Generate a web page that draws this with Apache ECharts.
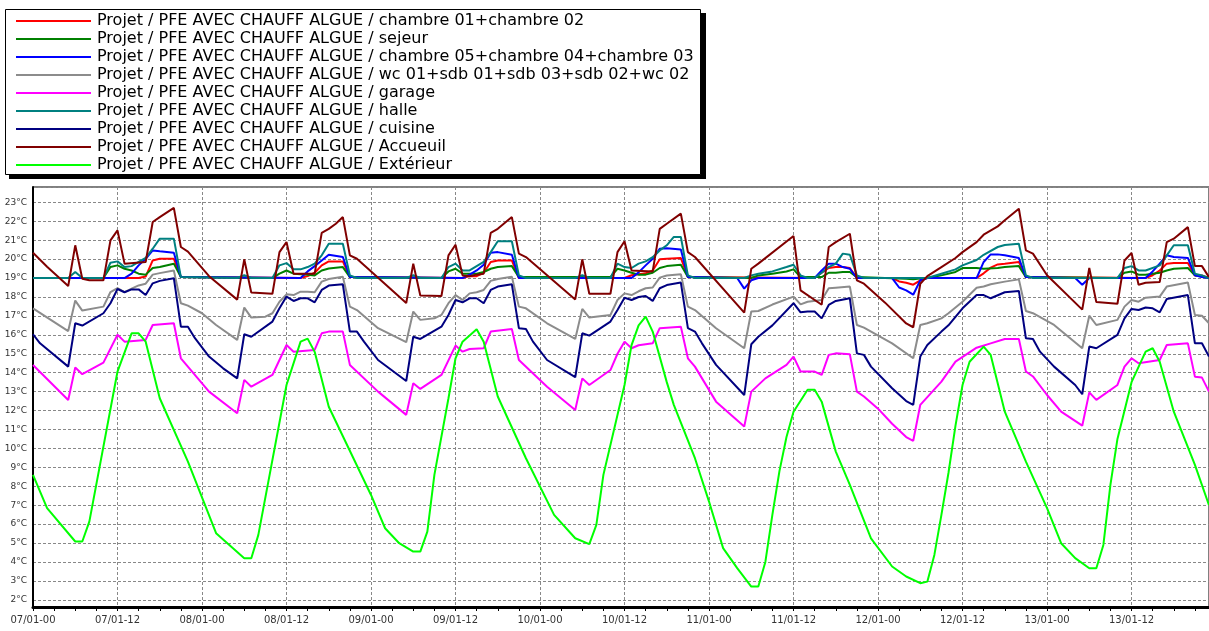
<!DOCTYPE html>
<html><head><meta charset="utf-8">
<script src="https://cdn.jsdelivr.net/npm/echarts@6/dist/echarts.min.js"></script>
<style>html,body{margin:0;padding:0;background:#fff}#c{width:1209px;height:631px}</style>
</head><body><div id="c"></div>
<script>
// ---- data (hour since 07/01-00, °C) ----
const prefix = 'Projet / PFE AVEC CHAUFF ALGUE / ';
const roomNames = ['chambre 01+chambre 02','sejeur','chambre 05+chambre 04+chambre 03','wc 01+sdb 01+sdb 03+sdb 02+wc 02','garage','halle','cuisine','Accueuil','Extérieur'];
const seriesColors = ['#ff0000','#008000','#0000ff','#8c8c8c','#ff00ff','#008080','#000080','#800000','#00ff00'];

const chambre0102 = [[0,19],[15,19],[16,19.08],[17,19.93],[18,20.02],[20,20.02],[21,19.05],[38,19],[39,19.1],[40,19.28],[41,19.67],[42,19.88],[44,19.88],[45,19.05],[61,19],[62,19.1],[63,19.1],[64,19.28],[65,19.85],[66,19.93],[68,19.93],[69,19],[84,19],[85,19.15],[86,19.2],[87,19.25],[88,19.4],[89,19.99],[90,20.02],[92,20.06],[93,19.05],[111,19],[112,19.28],[113,19.53],[114,19.58],[115,19.58],[116,19.53],[117,19],[122,19],[123,18.82],[124,18.75],[125,18.65],[126,18.88],[127,19],[134,19],[135,19.25],[136,19.55],[137,19.72],[138,19.76],[140,19.85],[141,19.05],[158,19],[159,19.15],[160,19.4],[161,19.76],[162,19.79],[164,19.79],[165,19.14],[166,19.14],[167,19]];
const sejeur = [[0,19],[10,19],[11,19.58],[12,19.67],[13,19.49],[14,19.4],[15,19.23],[16,19.18],[17,19.53],[18,19.58],[20,19.76],[21,19.05],[34,19],[35,19.23],[36,19.4],[37,19.23],[39,19.18],[40,19.14],[41,19.4],[42,19.5],[44,19.58],[45,19.05],[58,19],[59,19.35],[60,19.49],[61,19.23],[63,19.23],[64,19.32],[65,19.49],[66,19.58],[68,19.63],[69,19.05],[82,19.05],[83,19.49],[84,19.4],[85,19.28],[86,19.18],[87,19.18],[88,19.28],[89,19.53],[90,19.63],[92,19.7],[93,19.05],[102,19],[103,19.14],[105,19.23],[107,19.35],[108,19.46],[109,19.05],[112,19.05],[113,19.28],[114,19.28],[115,19.32],[116,19.32],[117,19.05],[124,18.96],[125,18.93],[126,18.97],[127,19],[129,19.14],[131,19.32],[132,19.53],[134,19.53],[135,19.49],[137,19.53],[138,19.58],[140,19.63],[141,19.05],[154,19],[155,19.28],[156,19.35],[157,19.18],[158,19.18],[160,19.28],[161,19.4],[162,19.49],[164,19.53],[165,19.14],[167,19]];
const chambre050403 = [[0,19],[13,19],[14,19.23],[15,19.67],[16,20.02],[17,20.46],[18,20.41],[20,20.34],[21,19.05],[38,19],[39,19.35],[40,19.63],[41,19.93],[42,20.23],[44,20.11],[45,19.05],[61,19],[62,19.18],[63,19.4],[64,19.7],[65,20.34],[66,20.37],[68,20.23],[69,19],[85,19],[86,19.3],[87,19.67],[88,20.02],[89,20.55],[90,20.58],[92,20.51],[93,19.05],[100,19],[101,18.44],[102,18.88],[103,19],[111,19],[112,19.4],[113,19.76],[114,19.76],[115,19.58],[116,19.49],[117,19],[122,19],[123,18.5],[124,18.35],[125,18.12],[126,18.88],[127,19],[134,19],[135,19.85],[136,20.25],[137,20.25],[138,20.2],[140,20.06],[141,19.05],[148,19],[149,18.65],[150,19],[158,19],[159,19.35],[160,19.76],[161,20.2],[162,20.11],[164,20.06],[165,19.14],[166,19.05],[167,19]];
const wcSdb = [[0,17.4],[5,16.2],[6,17.81],[7,17.28],[10,17.49],[11,18.26],[12,18.47],[13,18.26],[14,18.44],[15,18.61],[16,18.7],[17,19.18],[18,19.26],[20,19.4],[21,17.67],[22,17.54],[24,17.14],[26,16.52],[29,15.73],[30,17.44],[31,16.91],[33,16.96],[34,17.14],[35,17.75],[36,18.14],[37,18.1],[38,18.28],[39,18.28],[40,18.25],[41,18.81],[42,18.95],[44,19.07],[45,17.49],[46,17.31],[49,16.35],[53,15.61],[54,17.23],[55,16.79],[57,16.87],[58,17.05],[59,17.67],[60,18.1],[61,17.84],[62,18.19],[63,18.25],[64,18.37],[65,18.85],[66,18.95],[68,19.07],[69,17.49],[70,17.4],[73,16.61],[77,15.78],[78,17.37],[79,16.91],[82,17.05],[83,17.84],[84,18.19],[85,18.1],[86,18.3],[87,18.46],[88,18.5],[89,19.02],[90,19.13],[92,19.2],[93,17.49],[94,17.31],[97,16.35],[101,15.29],[102,17.23],[103,17.26],[105,17.6],[108,18.02],[109,17.61],[110,17.75],[112,17.84],[113,18.46],[114,18.49],[116,18.55],[117,16.52],[118,16.38],[122,15.55],[125,14.76],[126,16.52],[127,16.61],[129,16.87],[130,17.14],[132,17.75],[134,18.49],[135,18.55],[136,18.67],[138,18.81],[140,18.93],[141,17.26],[142,17.14],[145,16.52],[149,15.29],[150,17.01],[151,16.52],[154,16.79],[155,17.49],[156,17.84],[157,17.75],[158,17.96],[160,18.02],[161,18.55],[164,18.76],[165,17.05],[166,17.01],[167,16.61]];
const garage = [[0,14.41],[5,12.56],[6,14.27],[7,13.92],[10,14.53],[12,16.0],[13,15.64],[16,15.73],[17,16.52],[20,16.61],[21,14.76],[25,13.0],[29,11.86],[30,13.62],[31,13.26],[34,13.88],[36,15.46],[37,15.11],[40,15.2],[41,16.08],[42,16.17],[44,16.17],[45,14.41],[49,13.0],[53,11.77],[54,13.44],[55,13.14],[58,13.88],[60,15.43],[61,15.11],[62,15.25],[64,15.29],[65,16.17],[68,16.31],[69,14.67],[73,13.26],[77,12.03],[78,13.7],[79,13.35],[82,14.14],[83,15.0],[84,15.64],[85,15.29],[86,15.45],[88,15.55],[89,16.35],[92,16.43],[93,14.76],[94,14.32],[97,12.47],[101,11.15],[102,13.0],[104,13.7],[107,14.41],[108,14.85],[109,14.06],[111,14.06],[112,13.88],[113,14.94],[114,15.02],[116,14.97],[117,13.0],[118,12.74],[120,12.1],[122,11.3],[124,10.6],[125,10.4],[126,12.3],[129,13.53],[131,14.58],[134,15.32],[136,15.55],[138,15.78],[140,15.78],[141,14.06],[142,13.8],[144,12.82],[146,11.94],[149,11.2],[150,12.96],[151,12.56],[154,13.35],[155,14.32],[156,14.76],[157,14.5],[160,14.67],[161,15.46],[164,15.55],[165,13.79],[166,13.74],[167,13.0]];
const halle = [[0,19],[5,19],[6,19.32],[7,19],[10,19],[11,19.81],[12,19.88],[13,19.58],[14,19.63],[15,19.85],[16,20.06],[17,20.55],[18,21.08],[20,21.08],[21,19.05],[29,19],[30,19.15],[31,19],[34,19],[35,19.67],[36,19.79],[37,19.46],[38,19.46],[39,19.58],[40,19.76],[41,20.2],[42,20.81],[44,20.81],[45,19.14],[46,19],[53,19],[54,19.15],[55,19],[58,19],[59,19.58],[60,19.76],[61,19.4],[62,19.4],[63,19.63],[64,19.85],[65,20.37],[66,20.94],[68,20.94],[69,19.14],[70,19],[77,19],[78,19.15],[79,19],[82,19],[83,19.76],[84,19.58],[85,19.53],[86,19.76],[87,19.88],[88,20.1],[89,20.46],[90,20.73],[91,21.17],[92,21.17],[93,19.14],[94,19],[101,19],[102,19.14],[103,19.23],[105,19.35],[107,19.58],[108,19.7],[109,19.14],[110,19],[111,19],[112,19.28],[113,19.58],[114,19.76],[115,20.29],[116,20.23],[117,19.14],[118,19],[127,19],[129,19.23],[131,19.46],[132,19.67],[134,19.95],[135,20.23],[137,20.64],[138,20.75],[140,20.81],[141,19.14],[142,19],[154,19],[155,19.53],[156,19.63],[157,19.4],[158,19.4],[160,19.67],[161,20.2],[162,20.73],[164,20.73],[165,19.23],[166,19.14],[167,19]];
const cuisine = [[0,16.03],[1,15.55],[5,14.32],[6,16.61],[7,16.49],[10,17.14],[11,17.67],[12,18.42],[13,18.25],[14,18.4],[15,18.4],[16,18.1],[17,18.72],[18,18.85],[20,18.99],[21,16.43],[22,16.43],[23,15.82],[25,14.85],[27,14.23],[29,13.7],[30,16.03],[31,15.9],[34,16.7],[35,17.4],[36,18.02],[37,17.79],[38,17.93],[39,17.93],[40,17.72],[41,18.37],[42,18.6],[44,18.67],[45,16.17],[46,16.17],[47,15.64],[49,14.67],[53,13.56],[54,15.9],[55,15.78],[58,16.43],[59,17.05],[60,17.84],[61,17.72],[62,17.93],[63,17.93],[64,17.67],[65,18.37],[66,18.55],[68,18.67],[69,16.35],[70,16.31],[71,15.64],[73,14.67],[77,13.76],[78,16.08],[79,15.96],[82,16.7],[83,17.31],[84,17.96],[85,17.84],[86,18.0],[87,18.05],[88,17.79],[89,18.46],[90,18.63],[92,18.76],[93,16.35],[94,16.17],[95,15.55],[97,14.41],[101,12.82],[102,15.5],[103,15.9],[105,16.5],[108,17.67],[109,17.19],[110,17.23],[111,17.23],[112,16.87],[113,17.58],[114,17.79],[116,17.93],[117,15.02],[118,14.94],[119,14.32],[122,13.18],[124,12.5],[125,12.3],[126,14.85],[127,15.46],[129,16.17],[130,16.5],[132,17.4],[134,18.1],[135,18.1],[136,17.93],[138,18.25],[140,18.32],[141,15.82],[142,15.78],[143,15.11],[145,14.32],[148,13.35],[149,12.86],[150,15.38],[151,15.29],[154,16.0],[155,16.87],[156,17.37],[157,17.31],[158,17.44],[159,17.4],[160,17.19],[161,17.89],[164,18.1],[165,15.55],[166,15.55],[167,14.85]];
const accueuil = [[0,20.34],[2,19.6],[5,18.58],[6,20.73],[7,18.96],[8,18.88],[10,18.88],[11,20.99],[12,21.52],[13,19.76],[16,19.85],[17,21.96],[18,22.22],[20,22.71],[21,20.64],[22,20.4],[25,19.1],[29,17.86],[30,19.99],[31,18.23],[34,18.17],[35,20.37],[36,20.9],[37,19.23],[40,19.23],[41,21.39],[42,21.6],[43,21.87],[44,22.22],[45,20.2],[46,20.02],[53,17.68],[54,19.76],[55,18.08],[58,18.05],[59,20.2],[60,20.76],[61,19.14],[62,19.1],[63,19.18],[64,19.23],[65,21.39],[66,21.6],[68,22.22],[69,20.29],[70,20.11],[77,17.87],[78,19.99],[79,18.17],[82,18.17],[83,20.37],[84,20.94],[85,19.4],[88,19.35],[89,21.6],[90,21.87],[92,22.4],[93,20.37],[94,20.11],[101,17.17],[102,19.49],[103,19.76],[108,21.22],[109,18.35],[112,17.59],[113,20.64],[114,20.9],[116,21.34],[117,18.88],[118,18.7],[121,17.7],[124,16.6],[125,16.4],[126,18.7],[127,19.1],[129,19.58],[131,20.06],[132,20.37],[134,20.9],[135,21.29],[137,21.73],[138,22.05],[140,22.66],[141,20.46],[142,20.29],[144,19.15],[149,17.33],[150,19.53],[151,17.73],[154,17.64],[155,19.93],[156,20.32],[157,18.65],[158,18.75],[160,18.79],[161,20.9],[162,21.08],[164,21.69],[165,19.63],[166,19.63],[167,19.05]];
const exterieur = [[0,8.6],[2,6.84],[6,5.08],[7,5.08],[8,6.13],[12,14.06],[14,16.08],[15,16.08],[16,15.64],[18,12.65],[22,9.3],[26,5.52],[30,4.2],[31,4.2],[32,5.43],[36,13.35],[38,15.64],[39,15.8],[40,15.1],[42,12.2],[48,7.54],[50,5.78],[52,4.99],[54,4.55],[55,4.55],[56,5.6],[57,8.6],[59,12.65],[60,14.76],[61,15.64],[63,16.3],[64,15.64],[66,12.74],[70,9.48],[74,6.49],[77,5.25],[79,4.94],[80,5.96],[81,8.6],[84,13.35],[85,15.46],[86,16.5],[87,16.96],[88,16.17],[90,13.5],[91,12.3],[94,9.48],[96,7.19],[98,4.73],[100,3.67],[102,2.7],[103,2.7],[104,4.0],[105,6.5],[106,8.8],[107,10.6],[108,11.94],[110,13.1],[111,13.1],[112,12.47],[114,9.83],[116,8.07],[119,5.25],[122,3.76],[124,3.23],[126,2.88],[127,2.96],[128,4.37],[129,6.49],[130,8.7],[131,11.2],[132,13.35],[133,14.58],[135,15.38],[136,14.94],[138,11.94],[141,9.3],[144,6.84],[146,4.99],[148,4.2],[150,3.67],[151,3.67],[152,4.9],[153,8.07],[154,10.5],[156,13.5],[158,15.11],[159,15.29],[160,14.58],[162,11.94],[165,9.13],[167,7.0]];

const seriesData = [chambre0102, sejeur, chambre050403, wcSdb, garage, halle, cuisine, accueuil, exterieur];
const firstDay = 7;

function pad(n){ return (n < 10 ? '0' : '') + n; }
function hourLabel(v){
  if (Math.abs(v % 12) > 1e-6) return '';
  const d = firstDay + Math.floor(v / 24);
  return pad(d) + '/01-' + pad(v % 24);
}

const chart = echarts.init(document.getElementById('c'), null, {renderer: 'canvas'});
const names = roomNames.map(r => prefix + r);
chart.setOption({
  animation: false,
  backgroundColor: '#fff',
  graphic: {elements: [
    {type: 'rect', z: 0, shape: {x: 9, y: 13, width: 697, height: 166}, style: {fill: '#000'}},
    {type: 'rect', z: 1, shape: {x: 5.5, y: 9.5, width: 695, height: 165}, style: {fill: '#fff', stroke: '#000', lineWidth: 1}}
  ]},
  legend: {
    z: 10, orient: 'vertical', left: 16, top: 12, padding: 0, itemGap: 0,
    itemWidth: 75, itemHeight: 2, icon: 'rect', selectedMode: false,
    textStyle: {fontFamily: 'DejaVu Sans', fontSize: 16, color: '#000', lineHeight: 18, padding: [0,0,0,1]},
    data: names
  },
  grid: {left: 33, top: 187, width: 1177, height: 420, show: true, borderColor: '#000', borderWidth: 1, containLabel: false},
  xAxis: {
    type: 'value', min: 0, max: 167, interval: 12,
    axisLine: {show: true, onZero: false, lineStyle: {color: '#000', width: 3}},
    axisTick: {show: true, length: 4, lineStyle: {color: '#000', width: 1}},
    minorTick: {show: true, splitNumber: 4, length: 4, lineStyle: {color: '#000', width: 1}},
    axisLabel: {formatter: hourLabel, fontFamily: 'DejaVu Sans', fontSize: 10, color: '#333', margin: 8, showMaxLabel: false},
    splitLine: {show: true, lineStyle: {color: '#888', type: [3, 2], width: 1}}
  },
  yAxis: {
    type: 'value', min: 1.62, max: 23.81, splitNumber: 21,
    axisLine: {show: true, lineStyle: {color: '#000', width: 2}},
    axisTick: {show: false},
    axisLabel: {formatter: v => (Math.abs(v - Math.round(v)) < 1e-6 ? Math.round(v) + '°C' : ''), fontFamily: 'DejaVu Sans', fontSize: 9, color: '#333', margin: 6},
    splitLine: {show: true, lineStyle: {color: '#888', type: [3, 2], width: 1}}
  },
  series: seriesData.map((d, i) => ({
    name: names[i], type: 'line', data: d, showSymbol: false, symbol: 'none',
    color: seriesColors[i], lineStyle: {width: 2, color: seriesColors[i]},
    emphasis: {disabled: true}, z: 3
  }))
});
</script>
</body></html>
